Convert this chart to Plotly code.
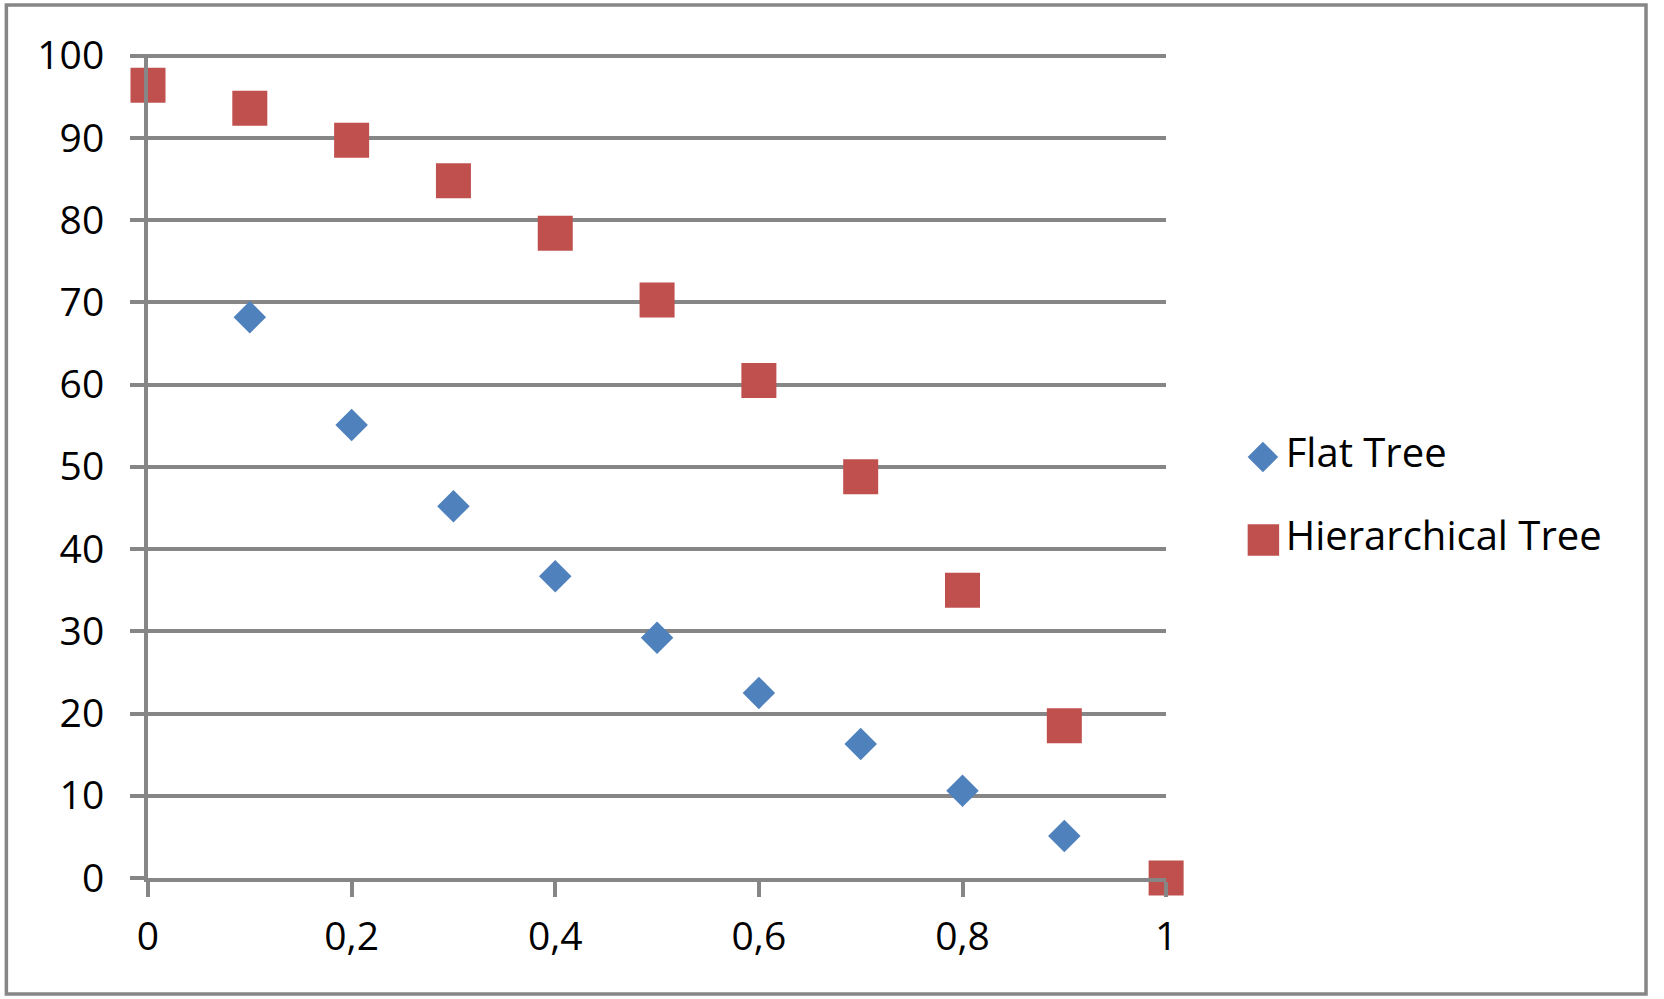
import plotly.graph_objects as go

x_vals = [0, 0.1, 0.2, 0.3, 0.4, 0.5, 0.6, 0.7, 0.8, 0.9, 1.0]
flat_x = [0.1, 0.2, 0.3, 0.4, 0.5, 0.6, 0.7, 0.8, 0.9, 1.0]
flat_tree = [68.2, 55.1, 45.2, 36.7, 29.2, 22.5, 16.3, 10.6, 5.1, 0]
hier_tree = [96.4, 93.6, 89.7, 84.8, 78.4, 70.3, 60.5, 48.8, 35.0, 18.5, 0]
series_names = ["Flat Tree", "Hierarchical Tree"]
x_tickvals = [0, 0.2, 0.4, 0.6, 0.8, 1.0]
x_ticktext = ["0", "0,2", "0,4", "0,6", "0,8", "1"]
y_tickvals = [0, 10, 20, 30, 40, 50, 60, 70, 80, 90, 100]

BLUE = "#4F81BD"
RED = "#C0504D"
GRAY = "#868686"
FONT = "Open Sans"

W, H = 1664, 999
L, R, T, B = 147.7, 5, 54, 121
plot_right = 1173.5
paper_w = W - L - R
main_end = (plot_right - L) / paper_w

fig = go.Figure()
fig.add_trace(go.Scatter(
    x=flat_x, y=flat_tree, mode="markers", name=series_names[0],
    marker=dict(symbol="diamond", size=25, color=BLUE, line=dict(width=0)),
    cliponaxis=False, showlegend=False))
fig.add_trace(go.Scatter(
    x=x_vals, y=hier_tree, mode="markers", name=series_names[1],
    marker=dict(symbol="square", size=35, color=RED, line=dict(width=0)),
    cliponaxis=False, showlegend=False))

# legend drawn on an overlay axis measured in pixels
leg_x0 = L + (main_end + 0.02) * paper_w
leg_marker_x = [1271, 1271.5]
leg_y = [457, 540]
fig.add_trace(go.Scatter(
    x=[leg_marker_x[0]], y=[leg_y[0]], mode="markers", xaxis="x2", yaxis="y2",
    marker=dict(symbol="diamond", size=23.5, color=BLUE), showlegend=False, cliponaxis=False))
fig.add_trace(go.Scatter(
    x=[leg_marker_x[1]], y=[leg_y[1]], mode="markers", xaxis="x2", yaxis="y2",
    marker=dict(symbol="square", size=31.5, color=RED), showlegend=False, cliponaxis=False))
fig.add_trace(go.Scatter(
    x=[1294, 1294], y=leg_y, mode="text", text=series_names, textposition="middle right",
    xaxis="x2", yaxis="y2", textfont=dict(family=FONT, size=40, color="black"),
    showlegend=False, cliponaxis=False))

fig.update_layout(
    width=W, height=H,
    margin=dict(l=L, r=R, t=T, b=B, pad=0),
    paper_bgcolor="white", plot_bgcolor="white",
    font=dict(family=FONT, size=39, color="black"),
    xaxis=dict(domain=[0, main_end], range=[0, 1], tickvals=x_tickvals, ticktext=x_ticktext,
               showgrid=False, zeroline=False, showline=True, linecolor=GRAY, linewidth=4,
               ticks="outside", ticklen=15, tickwidth=4, tickcolor=GRAY,
               ticklabelstandoff=6, tickfont=dict(family=FONT, size=39, color="black")),
    yaxis=dict(range=[0, 100.2], tickvals=y_tickvals, showgrid=True, gridcolor=GRAY, gridwidth=4,
               zeroline=False, showline=True, linecolor=GRAY, linewidth=4,
               ticks="outside", ticklen=14, tickwidth=4, tickcolor=GRAY,
               ticklabelstandoff=18, tickfont=dict(family=FONT, size=39, color="black")),
    xaxis2=dict(domain=[main_end + 0.02, 1], range=[leg_x0, W - R], visible=False, anchor="y2"),
    yaxis2=dict(domain=[0, 1], range=[H - B, T], visible=False, anchor="x2"),
    shapes=[dict(type="rect", xref="paper", yref="paper",
                 x0=(5 - L) / paper_w, x1=(1657 - L) / paper_w,
                 y0=-(994 - (H - B)) / (H - T - B), y1=1 + (T - 5) / (H - T - B),
                 line=dict(color=GRAY, width=3.5), fillcolor="rgba(0,0,0,0)", layer="below")],
)

fig.write_html("out.html", config={"displayModeBar": False},
               post_script="document.body.style.margin='0';document.body.style.overflow='hidden';"
                           "document.documentElement.style.overflow='hidden';")
